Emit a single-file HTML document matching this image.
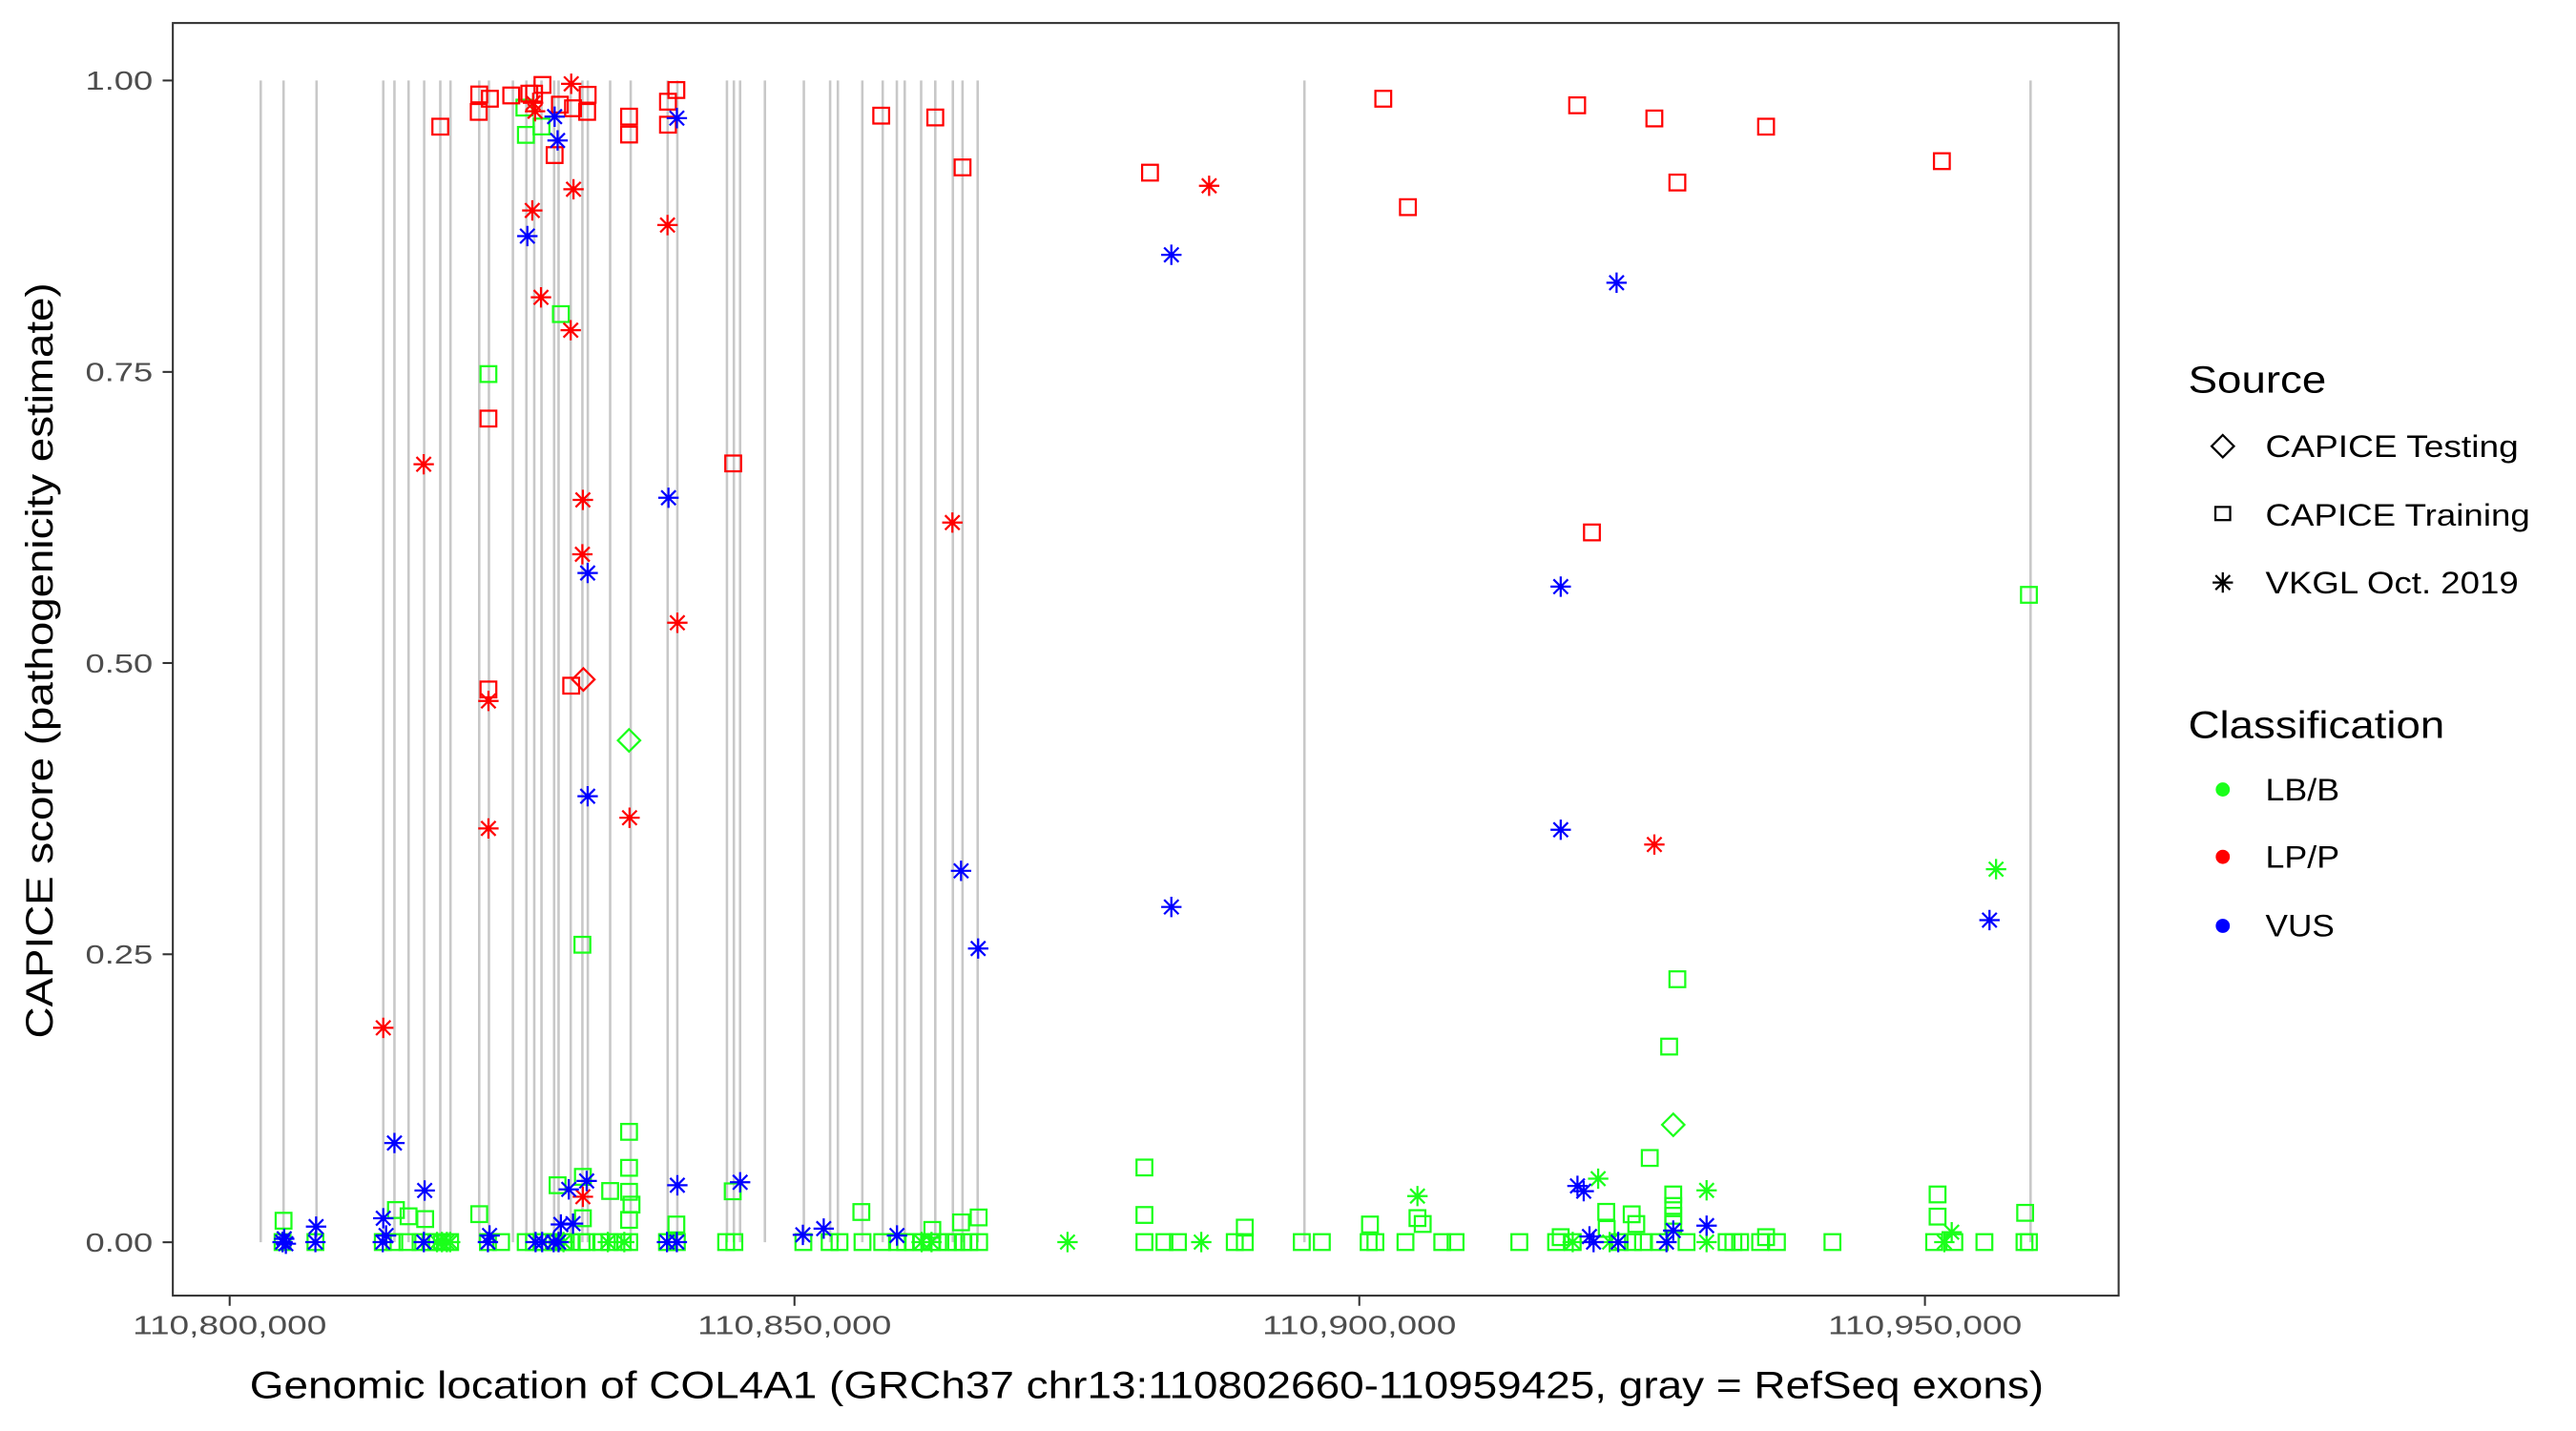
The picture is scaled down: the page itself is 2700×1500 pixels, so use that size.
<!DOCTYPE html>
<html><head><meta charset="utf-8"><style>
html,body{margin:0;padding:0;background:#fff;}
svg{display:block;}
text{font-family:"Liberation Sans",sans-serif;}
</style></head><body>
<svg id="s" width="2700" height="1500" viewBox="0 0 1568 870.9" xmlns="http://www.w3.org/2000/svg">
<rect x="0" y="0" width="1568" height="870.9" fill="#fff"/>
<g id="exons" stroke="#c8c8c8" stroke-width="1.5"></g>
<g id="pts" fill="none" stroke-width="1.3"></g>
<rect x="105.2" y="13.9" width="1184.4" height="774.7" fill="none" stroke="#333" stroke-width="1.2"/>
<g stroke="#333" stroke-width="1.2">
<line x1="99" x2="105.2" y1="48.9" y2="48.9"/><line x1="99" x2="105.2" y1="226.3" y2="226.3"/>
<line x1="99" x2="105.2" y1="403.5" y2="403.5"/><line x1="99" x2="105.2" y1="580.8" y2="580.8"/>
<line x1="99" x2="105.2" y1="756.1" y2="756.1"/>
<line x1="139.8" x2="139.8" y1="788.6" y2="794.8"/><line x1="483.6" x2="483.6" y1="788.6" y2="794.8"/>
<line x1="827.4" x2="827.4" y1="788.6" y2="794.8"/><line x1="1171.7" x2="1171.7" y1="788.6" y2="794.8"/>
</g>
<g fill="#4d4d4d" font-size="16" text-anchor="end">
<text x="93" y="54.6" textLength="41" lengthAdjust="spacingAndGlyphs">1.00</text><text x="93" y="232" textLength="41" lengthAdjust="spacingAndGlyphs">0.75</text><text x="93" y="409.2" textLength="41" lengthAdjust="spacingAndGlyphs">0.50</text>
<text x="93" y="586.5" textLength="41" lengthAdjust="spacingAndGlyphs">0.25</text><text x="93" y="761.8" textLength="41" lengthAdjust="spacingAndGlyphs">0.00</text>
</g>
<g fill="#4d4d4d" font-size="16">
<text x="80.8" y="812" textLength="118" lengthAdjust="spacingAndGlyphs">110,800,000</text><text x="424.6" y="812" textLength="118" lengthAdjust="spacingAndGlyphs">110,850,000</text>
<text x="768.4" y="812" textLength="118" lengthAdjust="spacingAndGlyphs">110,900,000</text><text x="1112.7" y="812" textLength="118" lengthAdjust="spacingAndGlyphs">110,950,000</text>
</g>
<text x="152" y="851" font-size="23" fill="#000" textLength="1092" lengthAdjust="spacingAndGlyphs">Genomic location of COL4A1 (GRCh37 chr13:110802660-110959425, gray = RefSeq exons)</text>
<text transform="translate(32,632) rotate(-90)" font-size="23" fill="#000" textLength="460" lengthAdjust="spacingAndGlyphs">CAPICE score (pathogenicity estimate)</text>
<g font-size="23" fill="#000"><text x="1332" y="239" textLength="84" lengthAdjust="spacingAndGlyphs">Source</text><text x="1332" y="449" textLength="156" lengthAdjust="spacingAndGlyphs">Classification</text></g>
<g font-size="19" fill="#000">
<text x="1379" y="278" textLength="154" lengthAdjust="spacingAndGlyphs">CAPICE Testing</text><text x="1379" y="320" textLength="161" lengthAdjust="spacingAndGlyphs">CAPICE Training</text><text x="1379" y="361" textLength="154" lengthAdjust="spacingAndGlyphs">VKGL Oct. 2019</text>
<text x="1379" y="487" textLength="45" lengthAdjust="spacingAndGlyphs">LB/B</text><text x="1379" y="528" textLength="45" lengthAdjust="spacingAndGlyphs">LP/P</text><text x="1379" y="570" textLength="42" lengthAdjust="spacingAndGlyphs">VUS</text>
</g>
<g id="leg" fill="none" stroke="#000" stroke-width="1.3"></g>
<circle cx="1353" cy="480.5" r="4.3" fill="#1aff1a"/><circle cx="1353" cy="521.5" r="4.3" fill="#ff0000"/><circle cx="1353" cy="563.5" r="4.3" fill="#0000ff"/>
</svg>
<script>
const NS="http://www.w3.org/2000/svg";
const ex=[158.7,172.6,192.7,233.3,240.1,248.7,258.2,268,274.2,291.7,297.6,312.2,320.4,325.2,329.6,337.3,340,347.4,354.5,357.8,371.4,383.9,406.4,412.3,442.5,446.7,450.5,465.6,489.3,505.3,510,524.9,537.3,545.9,550.7,560.7,569.3,580,585.9,595.1,794,1236];
const eg=document.getElementById('exons');
ex.forEach(x=>{const l=document.createElementNS(NS,'line');l.setAttribute('x1',x);l.setAttribute('x2',x);l.setAttribute('y1',48.9);l.setAttribute('y2',756.1);eg.appendChild(l);});
const C={g:'#1aff1a',r:'#ff0000',b:'#0000ff'};
function mk(g,sh,x,y,col){
 if(sh=='s'){const r=document.createElementNS(NS,'rect');r.setAttribute('x',x-4.8);r.setAttribute('y',y-4.8);r.setAttribute('width',9.6);r.setAttribute('height',9.6);r.setAttribute('stroke',col);g.appendChild(r);}
 else if(sh=='d'){const p=document.createElementNS(NS,'path');p.setAttribute('d',`M${x} ${y-6.8}L${x+6.8} ${y}L${x} ${y+6.8}L${x-6.8} ${y}Z`);p.setAttribute('stroke',col);g.appendChild(p);}
 else{const p=document.createElementNS(NS,'path');const a=6.2,b=4.4;p.setAttribute('d',`M${x-a} ${y}H${x+a}M${x} ${y-a}V${y+a}M${x-b} ${y-b}L${x+b} ${y+b}M${x-b} ${y+b}L${x+b} ${y-b}`);p.setAttribute('stroke',col);g.appendChild(p);}
}
const P=[];
function add(c,sh,arr){for(let i=0;i<arr.length;i+=2)P.push([c,sh,arr[i],arr[i+1]]);}
const B=756;
[172,192,233,240,248,256,262,266,269,274,297,305,320,325,330,337,343,348,354,357,366,371,379,383,406,412,442,447,489,505,511,525,537,546,551,556,561,567,571,577,582,586,590,596,696.6,708.8,717,751.6,757.7,792.4,804.6,833.1,837.2,855.5,877.9,886,924.8,947.2,957.3,985.9,994,1000.1,1010.3,1026.6,1051,1055.1,1059.2,1071.4,1081.6,1115.4,1177.3,1189.6,1207.9,1232.3,1235].forEach(x=>P.push(['g','s',x,B]));
add('g','s',[319.2,65.4,329.6,76.9,320.1,82,341.4,191.1,297.3,227.6,354.5,575,382.9,688.9,382.9,710.8,382.9,725.4,384.4,733.2,382.9,742.5,339.4,721.4,354.8,716.3,371.4,724.9,446,725.1,524.3,737.7,291.7,739,241,736.5,248.7,740.3,258.8,742,354.8,741.5,411.7,745.3,585,744,595.7,741,567.5,748.6,172.6,743,
696.6,710.6,696.6,739.5,1004.2,704.8,1018.5,727,1018.5,734,1018.5,740,1018.5,745,977.7,737.6,993.2,739.1,862.8,741.4,1179.4,727,1179.4,740.5,1232.7,738.2,757.7,747.2,833.9,745.3,1021,596,1016,637,1235,362,950,753,978,748,996,745,1075,753,866,745]);
add('g','a',[266,B,269,B,272,B,274,B,343,B,370,B,380,B,561,B,567,B,649.8,B,731.2,B,957.3,B,979.8,B,1038.8,B,1183.5,B,862.8,728,972.8,717.4,1038.8,724.5,1215,529,1188,750]);
add('g','d',[382.9,450.6,1018.5,684.6]);
add('r','s',[291.7,57.4,298.2,60,291.4,68,268,77,311.2,58,322.2,56.9,330.2,51.6,325.1,56.9,340.8,63.6,348.8,65.8,357.7,57.6,357.4,68,382.9,70.9,382.9,81.8,406.6,61.8,411.7,54.7,406.6,75.8,337.6,94.3,536.4,70.3,569.3,71.4,585.9,101.8,297.3,254.7,446.3,282,347.7,417.3,297.3,419.6,700,105,842,60,857,126,960,64,1007,72,1021,111,1075,77,1182,98,969,324]);
add('r','a',[347.7,50.9,324.5,62.5,325.7,67.6,349.1,115.1,324,128,406.3,136.9,329.3,180.9,347.4,200.9,257.9,282.5,354.8,304.2,579.7,318,354.5,337.3,412.3,379,297.3,426.6,297.3,504.2,383.2,497.7,233.3,625.6,354.8,728.4,736,113,1007,514]);
add('r','d',[355.1,413.5]);
add('b','a',[337.6,70.9,412,71.8,339.4,85.4,321,143.6,406.9,302.9,357.7,348.7,357.7,484.6,585,530,595.4,577.3,240.1,695.7,258.5,724.6,346.2,723.9,357.1,718.8,412.3,721.4,450.5,719.6,341.4,745.3,348.8,744.8,233.3,741.5,192.4,746.6,501.4,747.8,488.7,751.6,
172,B,173,754,174,757,192,B,233,B,235,752,297,B,298,752,258,B,326,B,330,B,337,B,340,B,406,B,412,B,546,752,
967.5,752.6,1014.4,B,1018.5,749,1038.8,746,960.2,721.8,713,155,984,172,950,357,950,505,713,552,964,725,1211,560,970,B,985,B]);
const g=document.getElementById('pts');
P.forEach(p=>mk(g,p[1],p[2],p[3],C[p[0]]));
const lg=document.getElementById('leg');
mk(lg,'d',1353,271.5,'#000');
const r=document.createElementNS(NS,'rect');r.setAttribute('x',1348.5);r.setAttribute('y',308.5);r.setAttribute('width',9);r.setAttribute('height',8);lg.appendChild(r);
mk(lg,'a',1353,354.5,'#000');
</script>
</body></html>
